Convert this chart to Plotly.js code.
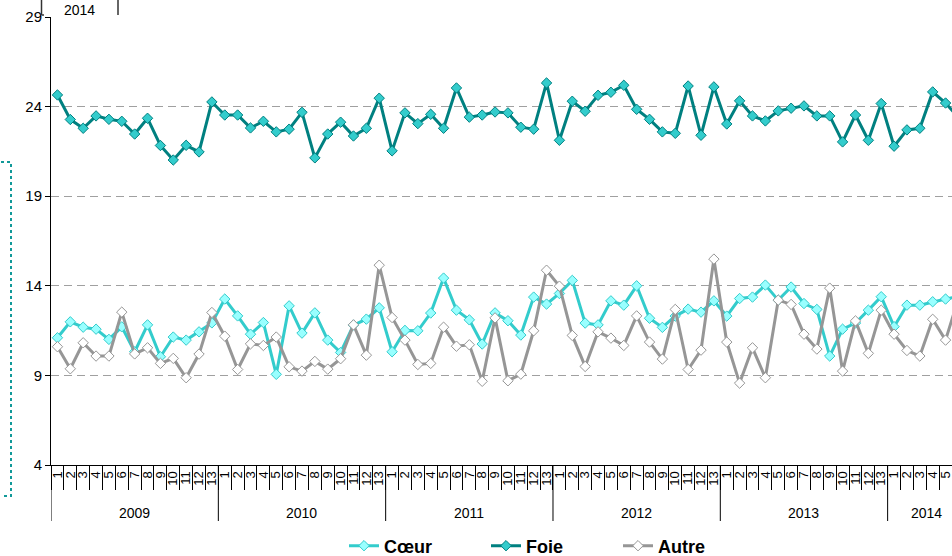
<!DOCTYPE html>
<html>
<head>
<meta charset="utf-8">
<script src="https://cdn.plot.ly/plotly-3.0.1.min.js"></script>
<style>
html,body{margin:0;padding:0;background:#fff;}
#chart{width:952px;height:556px;}
</style>
</head>
<body>
<div id="chart"></div>
<script>
// ---- data ----
const yearLabels = ['2009', '2010', '2011', '2012', '2013', '2014'];
const periodsPerYear = [13, 13, 13, 13, 13, 6];

const coeur = [
  11.10, 11.99, 11.69, 11.58, 11.01, 11.71, 10.32, 11.82, 10.04, 11.14, 10.97, 11.43, 11.93,
  13.26, 12.32, 11.30, 11.95, 9.06, 12.88, 11.36, 12.49, 10.97, 10.28, 11.81, 12.14, 12.77,
  10.32, 11.51, 11.49, 12.48, 14.43, 12.64, 12.10, 10.75, 12.49, 12.05, 11.25, 13.37, 12.98,
  13.57, 14.30, 11.92, 11.82, 13.16, 12.92, 14.00, 12.19, 11.68, 12.31, 12.70, 12.53, 13.16,
  12.31, 13.29, 13.37, 14.04, 13.20, 13.93, 13.01, 12.68, 10.08, 11.58, 11.92, 12.64, 13.39,
  11.72, 12.92, 12.92, 13.11, 13.26, 13.40
];
const foie = [
  24.65, 23.28, 22.79, 23.48, 23.29, 23.18, 22.47, 23.35, 21.83, 21.02, 21.84, 21.47, 24.26,
  23.53, 23.53, 22.81, 23.18, 22.59, 22.74, 23.68, 21.14, 22.47, 23.13, 22.36, 22.79, 24.47,
  21.53, 23.65, 23.05, 23.57, 22.79, 25.04, 23.41, 23.53, 23.70, 23.65, 22.85, 22.74, 25.32,
  22.12, 24.30, 23.74, 24.63, 24.80, 25.19, 23.85, 23.29, 22.59, 22.51, 25.15, 22.40, 25.10,
  23.03, 24.32, 23.48, 23.20, 23.76, 23.91, 24.04, 23.48, 23.48, 22.03, 23.53, 22.12, 24.17,
  21.79, 22.70, 22.79, 24.82, 24.20, 23.40
];
const autre = [
  10.60, 9.37, 10.82, 10.08, 10.08, 12.53, 10.20, 10.54, 9.67, 9.95, 8.87, 10.19, 12.51,
  11.19, 9.33, 10.76, 10.67, 11.14, 9.48, 9.24, 9.78, 9.35, 9.93, 11.82, 10.13, 15.15,
  12.23, 10.97, 9.61, 9.67, 11.69, 10.63, 10.71, 8.67, 12.21, 8.70, 9.07, 11.49, 14.87,
  13.98, 11.23, 9.50, 11.43, 11.08, 10.67, 12.32, 10.86, 9.91, 12.68, 9.33, 10.41, 15.49,
  10.86, 8.57, 10.54, 8.87, 13.20, 12.96, 11.30, 10.47, 13.87, 9.24, 12.04, 10.23, 12.64,
  11.30, 10.39, 10.08, 12.13, 10.97, 13.30
];
const seriesNames = ['Cœur', 'Foie', 'Autre'];
const yTicks = [4, 9, 14, 19, 24, 29];

// ---- categories ----
const catKey = [], catPeriod = [], groupStart = [];
yearLabels.forEach((y, i) => {
  groupStart.push(catKey.length);
  for (let p = 1; p <= periodsPerYear[i]; p++) { catKey.push(y + '-' + p); catPeriod.push(String(p)); }
});
const visibleCount = 70;

// ---- geometry helpers (for decorations outside the plot) ----
const W = 952, H = 556;
const M = {l: 51, r: 0, t: 17, b: 91};
const pw = W - M.l - M.r, ph = H - M.t - M.b;
const px = x => (x - M.l) / pw;
const py = y => (H - M.b - y) / ph;
const FONT = 'Liberation Sans, Arial, sans-serif';

function line(name, y, lineColor, fill, outline, legendId) {
  return {
    type: 'scatter', mode: 'lines+markers', name: name,
    x: catKey, y: y,
    line: {color: lineColor, width: 3},
    marker: {symbol: 'diamond', size: 8, color: fill, line: {color: outline, width: 1}},
    cliponaxis: true,
    legend: legendId
  };
}

const data = [
  line(seriesNames[0], coeur, '#33CCCC', '#99FFFF', '#33CCCC', 'legend'),
  line(seriesNames[1], foie, '#008080', '#33CCCC', '#008080', 'legend2'),
  line(seriesNames[2], autre, '#969696', '#FFFFFF', '#969696', 'legend3')
];

function legendAt(xPix) {
  return {
    orientation: 'h', x: xPix / W, xanchor: 'left', xref: 'container',
    y: (H - 546) / H, yanchor: 'middle', yref: 'container',
    font: {size: 18, family: FONT, weight: 'bold', color: '#000'},
    bgcolor: 'rgba(0,0,0,0)'
  };
}

// year dividers and labels derived from the category groups
const shapes = [];
const annotations = [];
groupStart.forEach((s, i) => {
  shapes.push({type: 'line', xref: 'x', yref: 'paper', x0: s - 0.5, x1: s - 0.5, y0: 0, y1: py(521),
               line: {color: '#000', width: 1}, layer: 'above'});
  annotations.push({text: yearLabels[i], xref: 'x', yref: 'paper', x: s + (periodsPerYear[i] - 1) / 2,
                    y: py(513), xanchor: 'center', yanchor: 'middle', showarrow: false,
                    font: {size: 14, family: FONT, color: '#000'}});
});
// fragment of the chart above (top-left)
shapes.push({type: 'line', xref: 'paper', yref: 'paper', x0: px(41.5), x1: px(41.5), y0: py(0), y1: py(15), line: {color: '#333', width: 1.5}});
shapes.push({type: 'line', xref: 'paper', yref: 'paper', x0: px(41.5), x1: px(44), y0: py(15), y1: py(15), line: {color: '#333', width: 1.5}});
shapes.push({type: 'line', xref: 'paper', yref: 'paper', x0: px(118), x1: px(118), y0: py(0), y1: py(15), line: {color: '#333', width: 1.5}});
annotations.push({text: '2014', xref: 'paper', yref: 'paper', x: px(79), y: py(10), xanchor: 'center', yanchor: 'middle', showarrow: false,
                  font: {size: 14, family: FONT, color: '#000'}});
// dotted bracket on the left
shapes.push({type: 'path', xref: 'paper', yref: 'paper',
  path: 'M ' + px(1) + ' ' + py(162) + ' L ' + px(11) + ' ' + py(162) + ' L ' + px(11) + ' ' + py(496) + ' L ' + px(1) + ' ' + py(496),
  line: {color: '#119999', width: 2, dash: 'dot'}});

const layout = {
  width: W, height: H,
  margin: M,
  paper_bgcolor: '#fff', plot_bgcolor: '#fff',
  font: {family: FONT, color: '#000'},
  showlegend: true,
  legend: legendAt(344),
  legend2: legendAt(486),
  legend3: legendAt(618),
  xaxis: {
    type: 'category',
    range: [-0.5, visibleCount - 0.5],
    tickmode: 'array', tickvals: catKey.slice(0, visibleCount), ticktext: catPeriod.slice(0, visibleCount),
    tickson: 'boundaries',
    showline: true, linecolor: '#000', linewidth: 1,
    ticks: 'outside', ticklen: 24, tickcolor: '#000', tickwidth: 1,
    tickangle: -90,
    tickfont: {size: 13, family: FONT, color: '#000'},
    showgrid: false, zeroline: false, automargin: false
  },
  yaxis: {
    range: [4, 29],
    tickvals: yTicks,
    ticktext: yTicks.map(String),
    showline: true, linecolor: '#000', linewidth: 1,
    ticks: 'outside', ticklen: 5, tickcolor: '#000',
    tickfont: {size: 15, family: FONT, color: '#000'},
    showgrid: true, gridcolor: '#A0A0A0', gridwidth: 1, griddash: '8px,5px',
    zeroline: false, automargin: false
  },
  shapes: shapes,
  annotations: annotations
};

Plotly.newPlot('chart', data, layout, {staticPlot: true, displayModeBar: false});
</script>
</body>
</html>
